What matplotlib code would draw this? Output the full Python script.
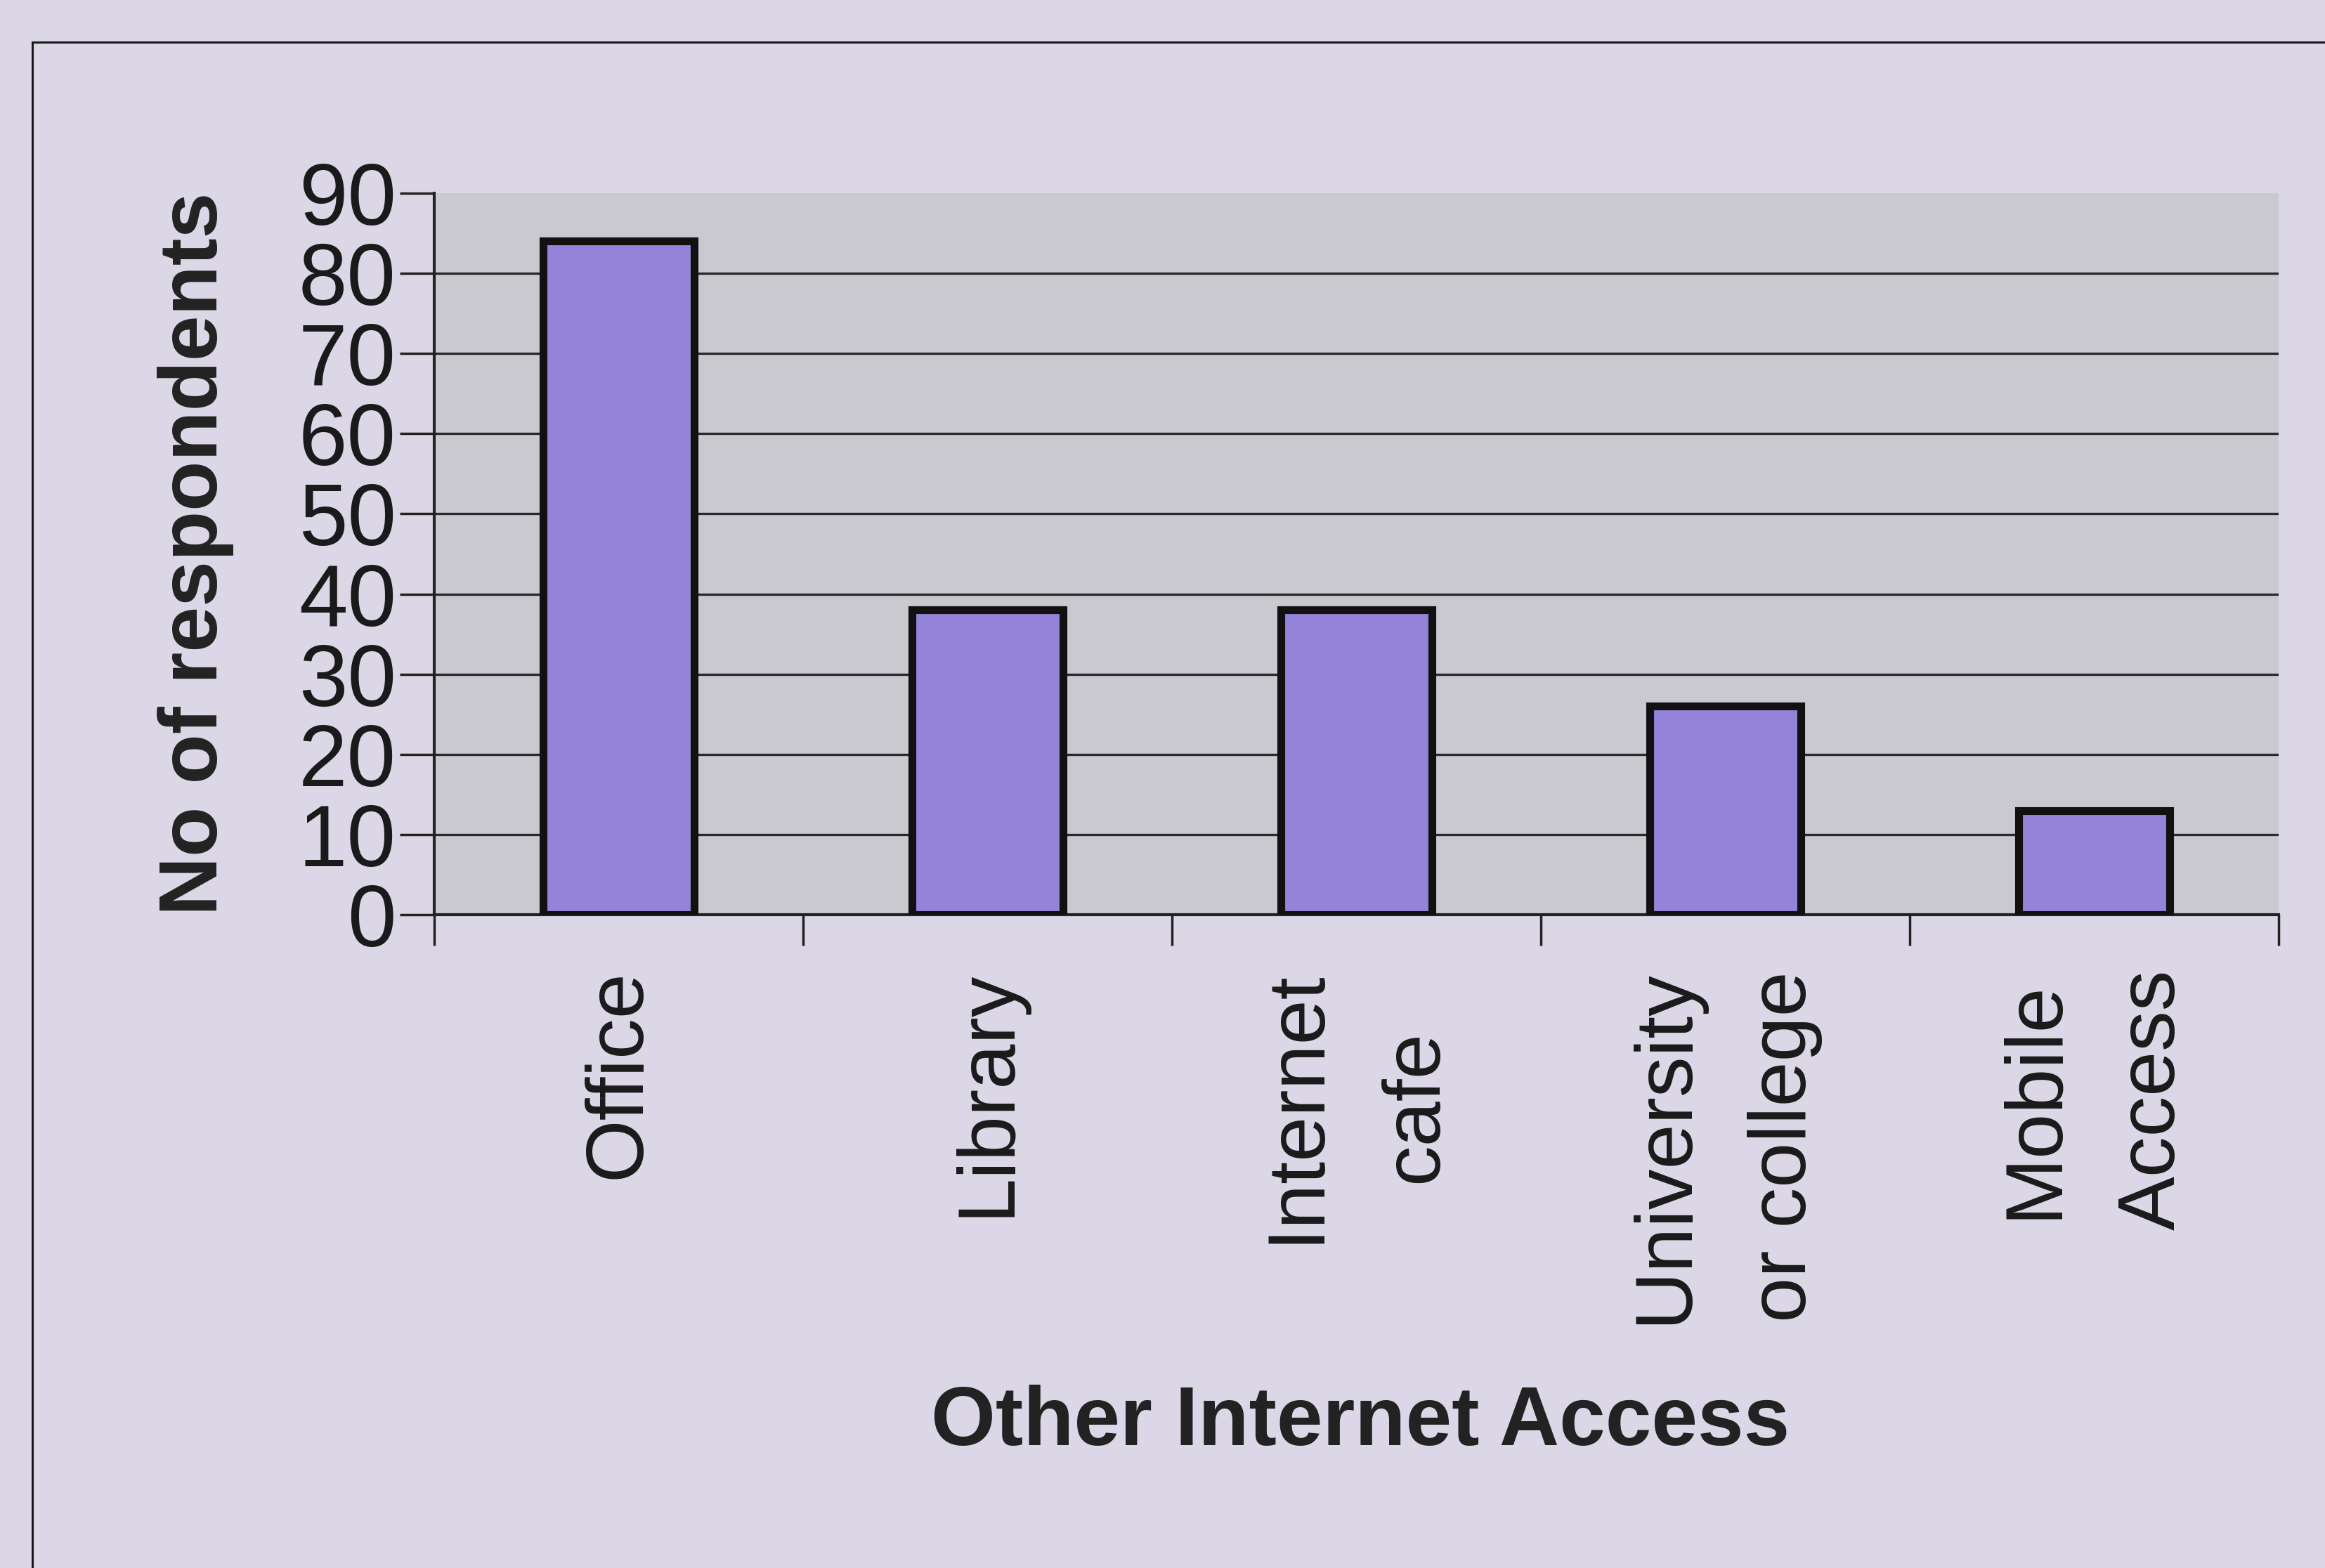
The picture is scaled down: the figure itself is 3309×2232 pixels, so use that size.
import matplotlib.pyplot as plt
from matplotlib.patches import Rectangle
import numpy as np

categories = ["Office", "Library", "Internet\ncafe", "University\nor college", "Mobile\nAccess"]
respondents = [84, 38, 38, 26, 13]
y_ticks = [0, 10, 20, 30, 40, 50, 60, 70, 80, 90]

plt.rcParams['font.family'] = ['Liberation Sans', 'DejaVu Sans']

fig = plt.figure(figsize=(33.09, 22.32), dpi=100)
fig.patch.set_facecolor('#dcd7e6')

# outer chart frame (runs off the right and bottom edges)
fig.patches.append(Rectangle((46 / 3309, -0.05), 1.2, 1 - 60 / 2232 + 0.05,
                             transform=fig.transFigure, fill=False,
                             edgecolor='#1a1a1a', linewidth=2.2))

ax = fig.add_axes([0.1868, 0.4167, 0.7933, 0.4601])
ax.set_facecolor('#cbc9d0')

centers = np.arange(len(categories)) + 0.5
ax.bar(centers, respondents, width=0.41, color='#9483d8',
       edgecolor='#111111', linewidth=8, zorder=3)

ax.set_xlim(0, len(categories))
ax.set_ylim(0, 90)
ax.set_yticks(y_ticks)
ax.set_yticklabels([str(v) for v in y_ticks], fontsize=90, color='#1a1a1a')
ax.yaxis.grid(True, color='#2a2a2a', linewidth=2.4, zorder=1)
ax.get_ygridlines()[-1].set_visible(False)
ax.set_axisbelow(True)

# boundary ticks between categories, labels at the centres
ax.set_xticks(np.arange(len(categories) + 1))
ax.set_xticklabels([])
ax.set_xticks(centers, minor=True)
ax.set_xticklabels(categories, minor=True, rotation=90, fontsize=83,
                   multialignment='center', linespacing=1.75, color='#1a1a1a')
ax.tick_params(axis='x', which='minor', length=0, pad=56)
ax.tick_params(axis='x', which='major', length=32, width=2.5, color='#222222')
ax.tick_params(axis='y', length=35, width=2.5, color='#222222', pad=4)

for s in ['top', 'right']:
    ax.spines[s].set_visible(False)
ax.spines['left'].set_linewidth(3)
ax.spines['bottom'].set_linewidth(3)
ax.spines['left'].set_color('#222222')
ax.spines['bottom'].set_color('#222222')

ax.set_ylabel("No of respondents", fontsize=84, fontweight='bold', labelpad=66,
              color='#222222')
fig.text(0.585, 1 - 2026 / 2232, "Other Internet Access", fontsize=85,
         fontweight='bold', ha='center', va='center', color='#222222')

fig.savefig("out.png", dpi=100, facecolor=fig.get_facecolor())
